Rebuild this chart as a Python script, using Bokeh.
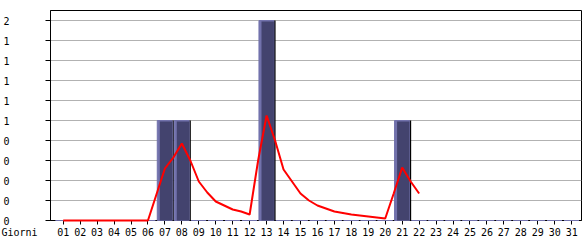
from bokeh.plotting import figure
from bokeh.models import FixedTicker, ColumnDataSource, Title, Range1d
from bokeh.embed import file_html
from bokeh.resources import INLINE
import numpy as np

# ---- data ----
days = list(range(1, 32))
day_labels = ["01", "02", "03", "04", "05", "06", "07", "08", "09", "10",
              "11", "12", "13", "14", "15", "16", "17", "18", "19", "20",
              "21", "22", "23", "24", "25", "26", "27", "28", "29", "30", "31"]
visits = [0, 0, 0, 0, 0, 0, 1, 1, 0, 0,
          0, 0, 2, 0, 0, 0, 0, 0, 0, 0,
          1, 0, 0, 0, 0, 0, 0, 0, 0, 0, 0]
trend_x = [1.0, 1.5, 2.0, 2.5, 3.0, 3.5, 4.0, 4.5, 5.0, 5.5, 6.0, 6.5,
           7.0, 7.5, 8.0, 8.5, 9.0, 9.5, 10.0, 10.5, 11.0, 11.5, 12.0, 12.5,
           13.0, 13.5, 14.0, 14.5, 15.0, 15.5, 16.0, 16.5, 17.0, 17.5, 18.0,
           18.5, 19.0, 19.5, 20.0, 20.5, 21.0, 21.5, 22.0]
trend_y = [0, 0, 0, 0, 0, 0, 0, 0, 0, 0, 0, 0.26,
           0.52, 0.63, 0.77, 0.60, 0.39, 0.28, 0.19, 0.15, 0.11, 0.09, 0.06, 0.60,
           1.05, 0.80, 0.51, 0.39, 0.27, 0.20, 0.15, 0.12, 0.09, 0.075, 0.06,
           0.05, 0.04, 0.03, 0.02, 0.27, 0.53, 0.39, 0.27]
y_ticks = [0, 0.2, 0.4, 0.6, 0.8, 1.0, 1.2, 1.4, 1.6, 1.8, 2.0]
y_tick_labels = ["0", "0", "0", "0", "0", "1", "1", "1", "1", "1", "2"]
x_title = "Giorni"

FONT = "DejaVu Sans Mono"
FSIZE = "10px"
LIGHT = "#7272ac"
DARK = "#43436e"

d = np.array(days, dtype=float)
v = np.array(visits, dtype=float)
src = ColumnDataSource(dict(
    l_light=d - 0.45, r_light=d + 0.43,
    l_dark=d - 0.30,
    l_sh=d + 0.43, r_sh=d + 0.53,
    top=v, top_dark=np.maximum(v - 0.011, 0), bottom=np.zeros_like(v),
))

p = figure(width=585, height=240, output_backend="svg", toolbar_location=None,
           x_range=Range1d(0.25, 31.58), y_range=Range1d(0, 2.1),
           min_border_left=50, min_border_right=4, min_border_top=10,
           min_border_bottom=20)
p.background_fill_color = "white"
p.border_fill_color = "white"
p.outline_line_color = "black"
p.outline_line_width = 1

# bars: shadow, light edge, dark body
p.quad(left="l_sh", right="r_sh", top="top", bottom="bottom", source=src,
       fill_color="black", line_color=None)
p.quad(left="l_light", right="r_light", top="top", bottom="bottom", source=src,
       fill_color=LIGHT, line_color=LIGHT, line_width=1, level="overlay")
p.quad(left="l_dark", right="r_light", top="top_dark", bottom="bottom", source=src,
       fill_color=DARK, line_color=None, level="overlay")

p.line(trend_x, trend_y, line_color="#ff0000", line_width=2, level="overlay")

# axes
p.xgrid.visible = False
p.ygrid.ticker = FixedTicker(ticks=y_ticks)
p.ygrid.grid_line_color = "#b2b2b2"
p.ygrid.grid_line_width = 1

p.xaxis.ticker = FixedTicker(ticks=days)
p.xaxis.major_label_overrides = {dd: lab for dd, lab in zip(days, day_labels)}
p.xaxis.major_tick_in = 0
p.xaxis.major_tick_out = 4
p.xaxis.minor_tick_line_color = None
p.xaxis.major_label_standoff = 3
p.xaxis.axis_line_color = "black"

p.yaxis.ticker = FixedTicker(ticks=y_ticks)
p.yaxis.major_label_overrides = {t: lab for t, lab in zip(y_ticks, y_tick_labels)}
p.yaxis.major_tick_in = 0
p.yaxis.major_tick_out = 5
p.yaxis.minor_tick_line_color = None
p.yaxis.major_label_standoff = 36
p.yaxis.axis_line_color = "black"

for ax in (p.xaxis, p.yaxis):
    ax.major_label_text_font = FONT
    ax.major_label_text_font_size = FSIZE
    ax.major_label_text_color = "black"
    ax.major_tick_line_color = "black"

t = Title(text=x_title, align="left", vertical_align="top", offset=-49,
          standoff=-24, text_font=FONT, text_font_size=FSIZE,
          text_font_style="normal", text_color="black")
p.add_layout(t, "below")

open("out.html", "w").write(file_html(p, INLINE))
